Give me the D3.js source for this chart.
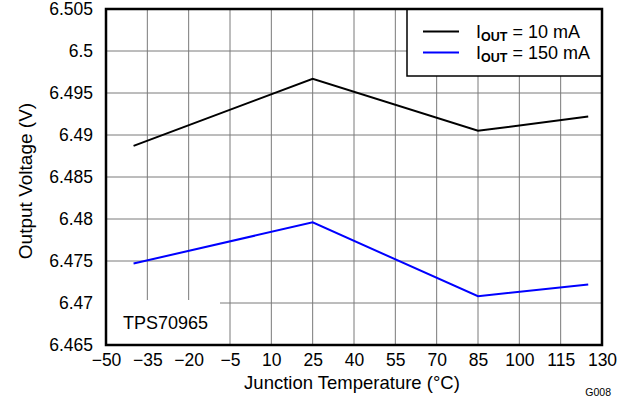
<!DOCTYPE html>
<html lang="en">
<head>
<meta charset="UTF-8">
<title>Output Voltage vs Junction Temperature</title>
<script src="https://d3js.org/d3.v7.min.js"></script>
<style>
    body { margin: 0; background: #fff; }
    text { font-family: "Liberation Sans", Arial, sans-serif; fill: #000; }
    .grid line { stroke: #7a7a7a; stroke-width: 1px; }
</style>
</head>
<body>
<script>
// data
const temps = [-40, 25, 85, 125];
const vout10mA = [6.4887, 6.4967, 6.4905, 6.4922];
const vout150mA = [6.4747, 6.4796, 6.4708, 6.4722];
const xTicks = [-50, -35, -20, -5, 10, 25, 40, 55, 70, 85, 100, 115, 130];
const yTicks = [6.465, 6.47, 6.475, 6.48, 6.485, 6.49, 6.495, 6.5, 6.505];
const seriesNames = ["10 mA", "150 mA"];
const seriesColors = ["#000000", "#0000ff"];

const width = 629, height = 400;
const pLeft = 106, pRight = 602, pTop = 9, pBottom = 345;

const svg = d3.select("body").append("svg")
    .attr("width", width)
    .attr("height", height);

const x = d3.scaleLinear().domain([-50, 130]).range([pLeft, pRight]);
const y = d3.scaleLinear().domain([6.465, 6.505]).range([pBottom, pTop]);

// grid
const grid = svg.append("g").attr("class", "grid");
grid.selectAll(".v").data(xTicks).join("line")
    .attr("x1", d => x(d)).attr("x2", d => x(d))
    .attr("y1", pTop).attr("y2", pBottom);
grid.selectAll(".h").data(yTicks).join("line")
    .attr("x1", pLeft).attr("x2", pRight)
    .attr("y1", d => y(d)).attr("y2", d => y(d));

// box for the device label (hides grid underneath)
svg.append("rect")
    .attr("x", pLeft).attr("y", 300)
    .attr("width", 114).attr("height", pBottom - 300)
    .attr("fill", "#fff");
svg.append("text")
    .attr("x", 123).attr("y", 329)
    .attr("font-size", 18)
    .text("TPS70965");

// lines
const line = d3.line().x(d => x(d[0])).y(d => y(d[1]));
[vout10mA, vout150mA].forEach((vals, i) => {
    svg.append("path")
        .datum(temps.map((t, j) => [t, vals[j]]))
        .attr("fill", "none")
        .attr("stroke", seriesColors[i])
        .attr("stroke-width", 2)
        .attr("d", line);
});

// legend
const lg = svg.append("g");
lg.append("rect")
    .attr("x", 407).attr("y", pTop)
    .attr("width", pRight - 407).attr("height", 67)
    .attr("fill", "#fff").attr("stroke", "#000").attr("stroke-width", 1.5);
seriesNames.forEach((name, i) => {
    const ly = 31.5 + i * 21;
    lg.append("line")
        .attr("x1", 423).attr("x2", 459)
        .attr("y1", ly).attr("y2", ly)
        .attr("stroke", seriesColors[i]).attr("stroke-width", 2);
    const t = lg.append("text")
        .attr("x", 476).attr("y", ly + 6)
        .attr("font-size", 18);
    t.append("tspan").text("I");
    t.append("tspan").attr("font-size", 12.5).attr("font-weight", "bold")
        .attr("dy", 3).text("OUT");
    t.append("tspan").attr("dy", -3).text(" = " + name);
});

// frame
svg.append("rect")
    .attr("x", pLeft).attr("y", pTop)
    .attr("width", pRight - pLeft).attr("height", pBottom - pTop)
    .attr("fill", "none").attr("stroke", "#000").attr("stroke-width", 2.5);

// axes (labels only)
const xAxis = d3.axisBottom(x).tickValues(xTicks).tickSize(0).tickPadding(9)
    .tickFormat(d => d < 0 ? "\u2212" + Math.abs(d) : d);
svg.append("g").attr("transform", `translate(0,${pBottom})`).call(xAxis)
    .call(g => g.select(".domain").remove())
    .selectAll("text").attr("font-size", 17.5).attr("font-family", null).attr("fill", "#000");

const yAxis = d3.axisLeft(y).tickValues(yTicks).tickSize(0).tickPadding(13)
    .tickFormat(d => d3.format("")(+d.toFixed(3)));
svg.append("g").attr("transform", `translate(${pLeft},0)`).call(yAxis)
    .call(g => g.select(".domain").remove())
    .selectAll("text").attr("font-size", 17.5).attr("font-family", null).attr("fill", "#000");

// titles
svg.append("text")
    .attr("x", 352).attr("y", 389)
    .attr("text-anchor", "middle").attr("font-size", 18.5)
    .text("Junction Temperature (\u00b0C)");
svg.append("text")
    .attr("transform", `translate(32,181) rotate(-90)`)
    .attr("text-anchor", "middle").attr("font-size", 19)
    .text("Output Voltage (V)");
svg.append("text")
    .attr("x", 611).attr("y", 396)
    .attr("text-anchor", "end").attr("font-size", 10.5)
    .text("G008");
</script>
</body>
</html>
